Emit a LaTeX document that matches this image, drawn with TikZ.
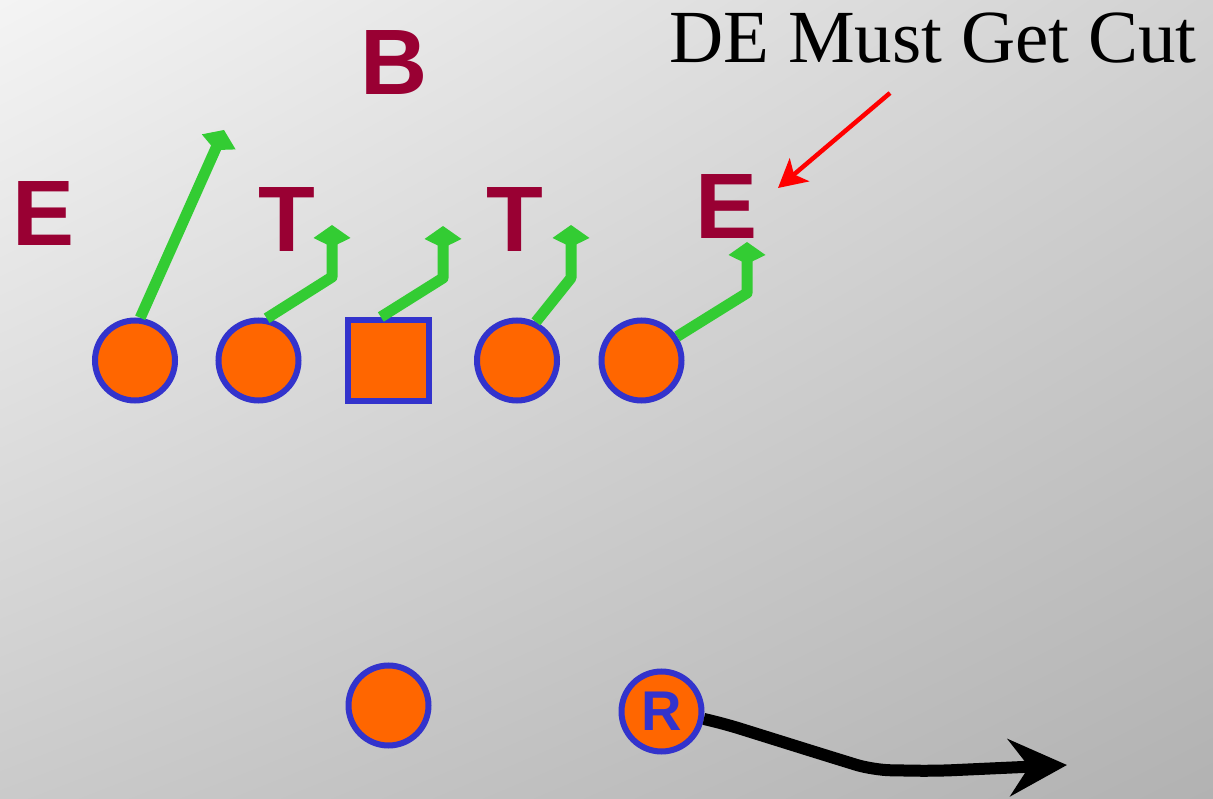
\documentclass[tikz,border=0pt]{standalone}
\usepackage{fontspec}
\setmainfont{Liberation Serif}
\newfontfamily\arialfont{Liberation Sans}
\usetikzlibrary{arrows.meta,shadings}
\definecolor{defcol}{HTML}{990033}
\definecolor{plfill}{HTML}{FF6600}
\definecolor{plblue}{HTML}{3333CC}
\definecolor{routegreen}{HTML}{33CC33}
\definecolor{bgUL}{HTML}{F4F4F4}
\definecolor{bgUR}{HTML}{D2D2D2}
\definecolor{bgLL}{HTML}{CACACA}
\definecolor{bgLR}{HTML}{B2B2B2}
\tikzset{
  player/.style={circle, draw=plblue, fill=plfill, line width=6pt, minimum size=80pt, inner sep=0pt},
  snapper/.style={rectangle, draw=plblue, fill=plfill, line width=6pt, minimum size=81pt, inner sep=0pt},
  defender/.style={text=defcol, inner sep=0pt, font=\arialfont\bfseries\fontsize{93}{93}\selectfont},
  route/.style={draw=routegreen, line width=11pt, line join=round, -{Kite[length=22pt,width=37pt,inset=9pt]}},
  runpath/.style={draw=black, line width=12pt, line join=round, rounded corners=18pt, -{Stealth[length=58pt,width=57pt,inset=20pt]}},
  callout/.style={draw=red, line width=4.5pt, -{Stealth[length=28pt,width=30pt,inset=7pt]}}
}
\begin{document}
\begin{tikzpicture}[x=1pt,y=-1pt]
\shade[upper left=bgUL, upper right=bgUR, lower left=bgLL, lower right=bgLR] (0,0) rectangle (1213,799);
\useasboundingbox (0,0) rectangle (1213,799);

% defenders
\node[defender] (eL) at (44,214) {E};
\node[defender] (b) at (394.5,63) {B};
\node[defender] (tL) at (286.5,220) {T};
\node[defender] (tR) at (515,220) {T};
\node[defender] (eR) at (726.5,207) {E};

% offense
\node[player] (c1) at (135,360.5) {};
\node[player] (c2) at (258.5,360.5) {};
\node[snapper] (sq) at (388.5,360.5) {};
\node[player] (c4) at (517,360.5) {};
\node[player] (c5) at (641.5,360.5) {};
\node[player] (qb) at (388.5,705.5) {};
\node[player, text=plblue, font=\arialfont\bfseries\fontsize{56}{56}\selectfont] (R) at (661.5,711.5) {R};

% route coordinates
\coordinate (t1) at (224,130);
\coordinate (b2) at (332,277);
\coordinate (t2) at (332,225);
\coordinate (b3) at (443,278);
\coordinate (t3) at (443,226);
\coordinate (b4) at (571,278);
\coordinate (t4) at (571,225);
\coordinate (b5) at (747,293);
\coordinate (t5) at (747,242);

\draw[route] (c1.83) -- (t1);
\draw[route] (c2.79) -- (b2) -- (t2);
\draw[route] (sq.100) -- (b3) -- (t3);
\draw[route] (c4.64) -- (b4) -- (t4);
\draw[route] (c5.34) -- (b5) -- (t5);

% run path
\coordinate (rtip) at (1067,765);
\draw[runpath] (R.-10) -- (722,723) -- (818,753) -- (873,770) -- (935,771) -- (rtip);

% callout
\node[anchor=base, inner sep=0pt, font=\fontsize{75}{75}\selectfont] (note) at (933,63) {DE Must Get Cut};
\coordinate (cs) at (890,93);
\coordinate (ct) at (778,188);
\draw[callout] (cs) -- (ct);
\end{tikzpicture}
\end{document}
